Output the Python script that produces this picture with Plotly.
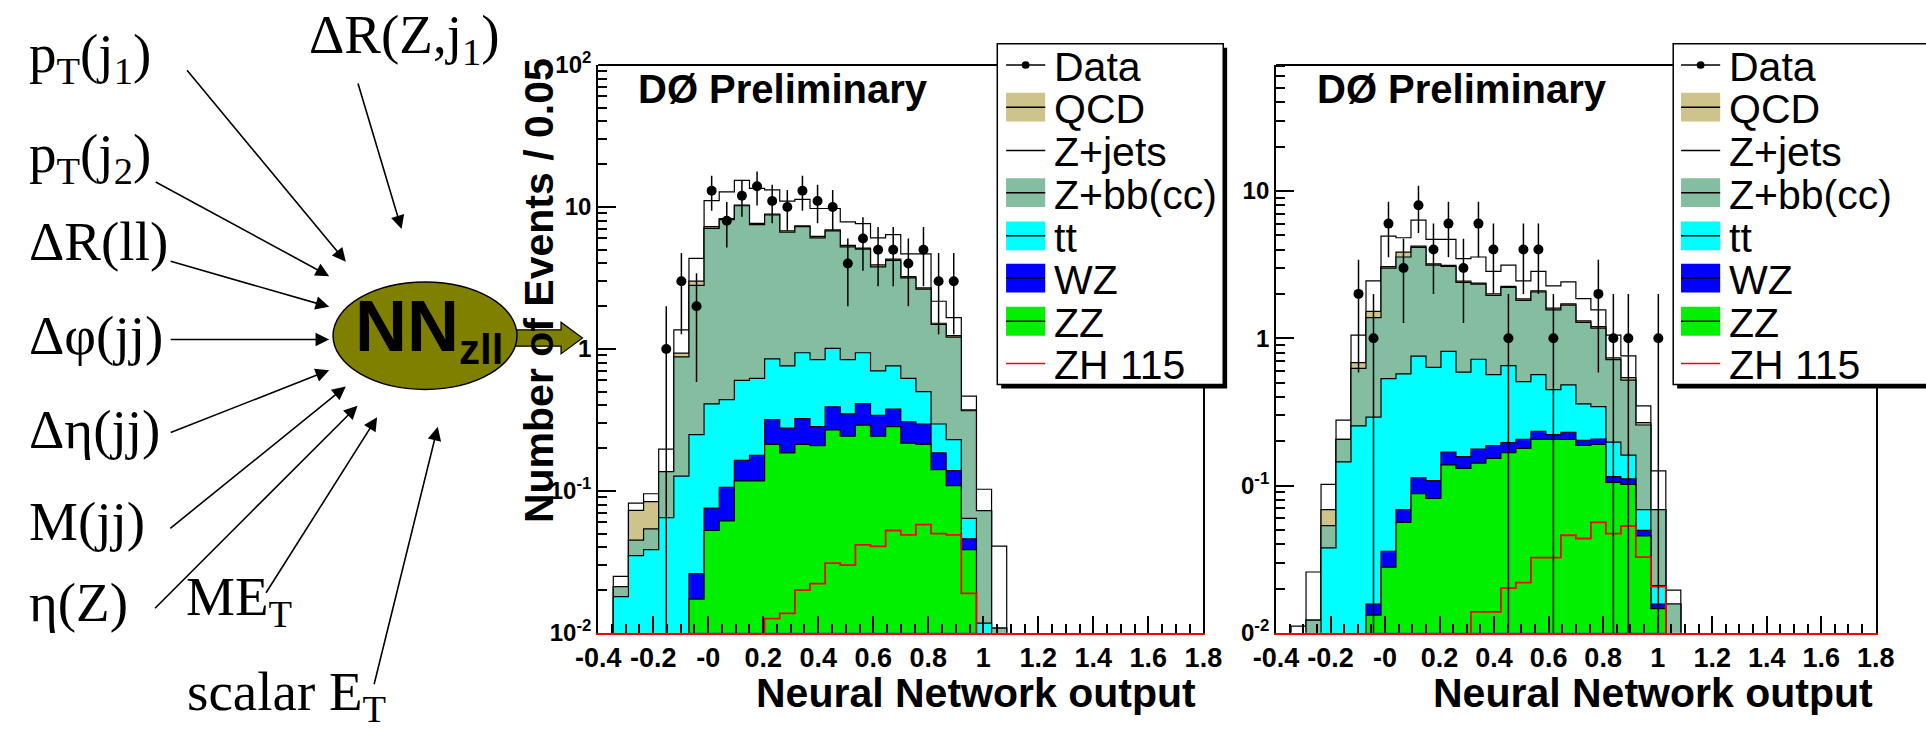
import numpy as np
import plotly.graph_objects as go

W, H = 1926, 745
BIN_LO, BIN_W, N_BINS = -0.4, 0.055, 40

# ---------------- data ----------------
x_tick_vals = [-0.4, -0.2, 0.0, 0.2, 0.4, 0.6, 0.8, 1.0, 1.2, 1.4, 1.6, 1.8]
x_tick_text = ["-0.4", "-0.2", "-0", "0.2", "0.4", "0.6", "0.8", "1", "1.2", "1.4", "1.6", "1.8"]
left_y_tick_vals = [0.01, 0.1, 1, 10, 100]
left_y_tick_text = ["10<sup>-2</sup>", "10<sup>-1</sup>", "1", "10", "10<sup>2</sup>"]
right_y_tick_vals = [0.01, 0.1, 1, 10]
right_y_tick_text = ["0<sup>-2</sup>", "0<sup>-1</sup>", "1", "10"]

legend_labels = ["Data", "QCD", "Z+jets", "Z+bb(cc)", "tt", "WZ", "ZZ", "ZH 115"]
input_labels = ["p<sub>T</sub>(j<sub>1</sub>)", "p<sub>T</sub>(j<sub>2</sub>)", "ΔR(ll)",
                "Δφ(jj)", "Δη(jj)", "M(jj)", "η(Z)"]
extra_labels = ["ME<sub>T</sub>", "scalar E<sub>T</sub>", "ΔR(Z,j<sub>1</sub>)"]

left_zz = [0] * 6 + [0.0173, 0.0526, 0.0615, 0.1175, 0.1175, 0.213, 0.185, 0.213, 0.208, 0.269,
                     0.243, 0.291, 0.243, 0.284, 0.217, 0.213, 0.141, 0.109, 0.0386] + [0] * 15
left_wz = [0] * 6 + [0.0088, 0.0231, 0.0445, 0.0465, 0.0605, 0.105, 0.092, 0.110, 0.076, 0.122,
                     0.106, 0.121, 0.097, 0.093, 0.090, 0.083, 0.044, 0.030, 0.0074] + [0] * 15
left_tt = [0, 0.018, 0.035, 0.0386, 0.0647, 0.127, 0.223, 0.334, 0.334, 0.436, 0.442, 0.532, 0.483,
           0.617, 0.556, 0.619, 0.491, 0.528, 0.360, 0.383, 0.313, 0.204, 0.111, 0.091, 0.018,
           0.0117] + [0] * 14
left_zbb = [0, 0.0032, 0.010, 0.0154, 0.072, 0.753, 2.55, 6.66, 7.7, 9.6, 6.88, 7.95, 5.89, 6.32,
            5.21, 5.78, 4.40, 4.11, 3.09, 3.45, 2.55, 2.14, 1.19, 0.98, 0.303, 0.061, 0.0108] + [0] * 13
left_qcd = [0, 0, 0.028, 0.030, 0, 0.055, 0.2, 0.2, 0.15, 0.1, 0.15, 0.12, 0.15, 0.1, 0.15, 0.1,
            0.12, 0.08, 0.12, 0.08, 0.06, 0.05, 0.03, 0.03, 0.005] + [0] * 15
left_zjets = [0, 0.0038, 0.009, 0.0115, 0.060, 0.425, 1.35, 3.83, 4.5, 5.1, 5.85, 4.28, 4.2, 3.94,
              3.55, 2.86, 2.49, 2.51, 2.14, 2.09, 1.44, 1.98, 0.65, 0.42, 0.093, 0.030, 0.030] + [0] * 13
left_zh = [0] * 11 + [0.0126, 0.0137, 0.020, 0.0222, 0.031, 0.030, 0.0417, 0.0406, 0.0526, 0.049,
                      0.0578, 0.050, 0.049, 0.019] + [0] * 15
left_data = [0, 0, 0, 0, 1, 3, 2, 13, 8, 12, 14, 11, 10, 13, 11, 10, 4, 6, 5, 5, 4, 5, 3, 3] + [0] * 16

right_zz = [0] * 6 + [0.0132, 0.0279, 0.0562, 0.088, 0.0817, 0.138, 0.131, 0.142, 0.153, 0.167,
                      0.179, 0.206, 0.204, 0.206, 0.187, 0.19, 0.105, 0.102, 0.0455, 0.0146] + [0] * 14
right_wz = [0] * 6 + [0.0025, 0.0079, 0.0124, 0.025, 0.0263, 0.031, 0.026, 0.035, 0.034, 0.029,
                      0.027, 0.027, 0.018, 0.024, 0.016, 0.017, 0.010, 0.009, 0.0041, 0.0011] + [0] * 14
right_tt = [0] * 3 + [0.0377, 0.145, 0.254, 0.276, 0.497, 0.505, 0.644, 0.527, 0.646, 0.432, 0.543,
                      0.379, 0.455, 0.301, 0.333, 0.226, 0.252, 0.155, 0.136, 0.082, 0.050, 0.019,
                      0.0052] + [0] * 14
right_zbb = [0] * 2 + [0.0122, 0.0157, 0.061, 0.371, 1.088, 2.457, 2.986, 3.383, 2.505, 2.255, 1.801,
                       1.61, 1.384, 1.559, 1.303, 1.494, 1.112, 1.198, 0.922, 0.827, 0.518, 0.359,
                       0.189, 0.0477, 0.0157] + [0] * 13
right_qcd = [0] * 3 + [0.0152, 0, 0.059, 0.14, 0.07, 0.28, 0.08, 0.06, 0.05, 0.05, 0.04, 0.05, 0.04,
                       0.04, 0.04, 0.04, 0.03, 0.03, 0.03, 0.02, 0.02, 0.01] + [0] * 15
right_zjets = [0, 0.0111, 0.0137, 0.0334, 0.072, 0.366, 0.93, 1.87, 0.97, 2.12, 1.49, 1.57, 1.03,
               1.19, 0.84, 0.89, 0.60, 0.74, 0.67, 0.70, 0.55, 0.36, 0.315, 0.22, 0.080, 0.057,
               0.0038] + [0] * 13
right_zh = [0] * 13 + [0.0139, 0.0139, 0.0201, 0.0219, 0.0324, 0.0324, 0.046, 0.0437, 0.0562,
                       0.0472, 0.053, 0.0327, 0.0206] + [0] * 14
right_data = [0] * 5 + [2, 1, 6, 3, 8, 4, 6, 3, 6, 4, 1, 4, 4, 1, 0, 0, 2, 1, 1, 0, 1] + [0] * 14

# ---------------- styles ----------------
C_QCD, C_ZBB, C_TT, C_WZ, C_ZZ, C_ZH = "#cdc38b", "#84bd9f", "#00ffff", "#0000ff", "#00f000", "#ff0000"
OLIVE = "#808000"
SANS, SERIF = "Liberation Sans", "Liberation Serif"

edges = BIN_LO + BIN_W * np.arange(N_BINS + 1)
centers = edges[:-1] + BIN_W / 2
BASE = 1e-5


def step_polygon(vals):
    xs, ys = [edges[0]], [BASE]
    for i, v in enumerate(vals):
        v = v if v > 0 else BASE
        xs += [edges[i], edges[i + 1]]
        ys += [v, v]
    xs.append(edges[-1])
    ys.append(BASE)
    return xs, ys


fig = go.Figure()


def add_panel(xa, ya, zz, wz, tt, zbb, qcd, zjets, zh, data):
    layers = np.cumsum(np.array([zz, wz, tt, zbb, qcd, zjets], dtype=float), axis=0)
    colors = [C_ZZ, C_WZ, C_TT, C_ZBB, C_QCD, "white"]
    for idx in range(5, -1, -1):
        xs, ys = step_polygon(layers[idx])
        fig.add_trace(go.Scatter(x=xs, y=ys, mode="lines", fill="toself", fillcolor=colors[idx],
                                 line=dict(color="black", width=1.2), xaxis=xa, yaxis=ya,
                                 hoverinfo="skip", showlegend=False))
    zh_vals = [v if v > 0 else BASE for v in zh]
    fig.add_trace(go.Scatter(x=edges, y=zh_vals + [zh_vals[-1]], mode="lines", line_shape="hv",
                             line=dict(color=C_ZH, width=1.8), xaxis=xa, yaxis=ya,
                             hoverinfo="skip", showlegend=False))
    d = np.array(data, dtype=float)
    m = d > 0
    err = np.sqrt(d[m])
    fig.add_trace(go.Scatter(x=centers[m], y=d[m], mode="markers",
                             marker=dict(color="black", size=10),
                             error_y=dict(type="data", symmetric=False, array=err,
                                          arrayminus=np.minimum(err, d[m] * 0.9999),
                                          color="black", thickness=1.5, width=0),
                             xaxis=xa, yaxis=ya, showlegend=False))


add_panel("x", "y", left_zz, left_wz, left_tt, left_zbb, left_qcd, left_zjets, left_zh, left_data)
add_panel("x2", "y2", right_zz, right_wz, right_tt, right_zbb, right_qcd, right_zjets, right_zh, right_data)


def PX(p):
    return p / W


def PY(p):
    return 1 - p / H


minor_x = list(np.round(np.arange(-0.4, 1.8001, 0.05), 3))
minor_y = [m * 10.0 ** e for e in range(-2, 2) for m in range(2, 10)]

xaxis_common = dict(range=[-0.4, 1.8], tickmode="array", tickvals=x_tick_vals, ticktext=x_tick_text,
                    ticks="inside", ticklen=17, tickwidth=1.5, tickcolor="black",
                    showline=True, linecolor="red", linewidth=2, showgrid=False, zeroline=False,
                    tickfont=dict(family=SANS, size=27, color="black", weight="bold"),
                    minor=dict(tickmode="array", tickvals=minor_x, ticks="inside", ticklen=9,
                               tickwidth=1.5, tickcolor="black", showgrid=False))
yaxis_common = dict(type="log", tickmode="array", ticks="inside", ticklen=18, tickwidth=1.5,
                    tickcolor="black", showline=True, linecolor="black", linewidth=2, mirror=True,
                    showgrid=False, zeroline=False,
                    tickfont=dict(family=SANS, size=24, color="black", weight="bold"),
                    minor=dict(tickmode="array", tickvals=minor_y, ticks="inside", ticklen=9,
                               tickwidth=1.5, tickcolor="black", showgrid=False))

y_dom = [PY(641.7), PY(50)]
fig.update_layout(
    width=W, height=H, margin=dict(l=0, r=0, t=0, b=0),
    paper_bgcolor="white", plot_bgcolor="white", showlegend=False,
    xaxis=dict(domain=[PX(588), PX(1206.7)], anchor="y", **xaxis_common),
    yaxis=dict(domain=y_dom, anchor="x", range=[-2, 2], tickvals=left_y_tick_vals,
               ticktext=left_y_tick_text, **yaxis_common),
    xaxis2=dict(domain=[PX(1281), PX(1894)], anchor="y2", **xaxis_common),
    yaxis2=dict(domain=y_dom, anchor="x2", range=[-2, 1.855], tickvals=right_y_tick_vals,
                ticktext=right_y_tick_text, **yaxis_common),
)

shapes = []
annotations = []

# top frame lines
for xr, yr in (("x domain", "y domain"), ("x2 domain", "y2 domain")):
    shapes.append(dict(type="line", xref=xr, yref=yr, x0=0, x1=1, y0=1, y1=1,
                       line=dict(color="black", width=2), layer="above"))

# legends
sym_y = [50, 94, 139, 183, 228, 272, 317, 361]
kinds = ["marker", "fill", "line", "fill", "fill", "fill", "fill", "line"]
sym_colors = ["black", C_QCD, "black", C_ZBB, C_TT, C_WZ, C_ZZ, C_ZH]


def text_ann(text, x, y, size, family=SANS, xanchor="left", bold=False, angle=0):
    return dict(text=text, xref="paper", yref="paper", x=PX(x), y=PY(y), xanchor=xanchor,
                yanchor="middle", align=xanchor if xanchor != "center" else "center",
                showarrow=False, textangle=angle, borderpad=0,
                font=dict(family=family, size=size, color="black",
                          weight="bold" if bold else "normal"))


def add_legend(bx0, bx1, by0, by1, sx0, sx1, tx):
    shapes.append(dict(type="rect", xref="paper", yref="paper", x0=PX(bx0 + 4), x1=PX(bx1 + 4),
                       y0=PY(by1 + 4), y1=PY(by0 + 4), fillcolor="black", line=dict(width=0),
                       layer="above"))
    shapes.append(dict(type="rect", xref="paper", yref="paper", x0=PX(bx0), x1=PX(bx1),
                       y0=PY(by1), y1=PY(by0), fillcolor="white", line=dict(color="black", width=1.5),
                       layer="above"))
    for lab, kind, col, yc in zip(legend_labels, kinds, sym_colors, sym_y):
        if kind == "fill":
            shapes.append(dict(type="rect", xref="paper", yref="paper", x0=PX(sx0), x1=PX(sx1),
                               y0=PY(yc + 15), y1=PY(yc - 15), fillcolor=col, line=dict(width=0),
                               layer="above"))
            shapes.append(dict(type="line", xref="paper", yref="paper", x0=PX(sx0), x1=PX(sx1),
                               y0=PY(yc), y1=PY(yc), line=dict(color="black", width=1.5), layer="above"))
        else:
            shapes.append(dict(type="line", xref="paper", yref="paper", x0=PX(sx0), x1=PX(sx1),
                               y0=PY(yc), y1=PY(yc), line=dict(color=col, width=1.5), layer="above"))
            if kind == "marker":
                xm = (sx0 + sx1) / 2
                shapes.append(dict(type="circle", xref="paper", yref="paper", x0=PX(xm - 4),
                                   x1=PX(xm + 4), y0=PY(yc + 4), y1=PY(yc - 4), fillcolor="black",
                                   line=dict(width=0), layer="above"))
        annotations.append(text_ann(lab, tx, yc + 2, 41))


add_legend(996, 1227, 28, 383, 1005, 1045, 1053)
add_legend(1687, 1960, 28, 383, 1695, 1735, 1743)

# panel texts
for xl in (628, 1322):
    annotations.append(text_ann("DØ Preliminary", xl, 75, 40, bold=True))
for xr in (1200, 1892):
    annotations.append(text_ann("Neural Network output", xr, 704, 41, xanchor="right", bold=True))
annotations.append(text_ann("Number of Events / 0.05", 527, 285, 41, xanchor="center", bold=True,
                            angle=-90))

# ---------------- NN diagram ----------------
label_y = [42, 146, 234, 332, 430, 526, 610]
for lab, yc in zip(input_labels, label_y):
    annotations.append(text_ann(lab, 5, yc, 55, family=SERIF))
for lab, (xl, yc) in zip(extra_labels, [(166, 608), (167, 707), (291, 22)]):
    annotations.append(text_ann(lab, xl, yc, 55, family=SERIF))

arrows = [((170, 62), (330, 255)), ((138, 175), (313, 270)), ((153, 256), (313, 302)),
          ((153, 336), (313, 336)), ((153, 431), (313, 368)), ((153, 528), (330, 385)),
          ((138, 609), (342, 405)), ((250, 594), (362, 417)), ((360, 686), (424, 427)),
          ((343, 74), (387, 221))]
for (tx_, ty_), (hx, hy) in arrows:
    annotations.append(dict(text="", xref="paper", yref="paper", axref="pixel", ayref="pixel",
                            x=PX(hx), y=PY(hy), ax=tx_ - hx, ay=ty_ - hy, showarrow=True,
                            arrowhead=2, arrowsize=1.7, arrowwidth=1.6, arrowcolor="black",
                            standoff=0, startstandoff=0))

# block arrow out of the ellipse
pts = [(497, 326), (550, 326), (550, 318), (572, 334.5), (550, 351), (550, 343), (497, 343)]
path = "M " + " L ".join(f"{PX(a):.5f} {PY(b):.5f}" for a, b in pts) + " Z"
shapes.append(dict(type="path", xref="paper", yref="paper", path=path, fillcolor=OLIVE,
                   line=dict(color="black", width=1.2), layer="above"))
shapes.append(dict(type="circle", xref="paper", yref="paper", x0=PX(317), x1=PX(505),
                   y0=PY(388), y1=PY(276), fillcolor=OLIVE, line=dict(color="black", width=1.5),
                   layer="above"))
annotations.append(text_ann("NN", 338, 322, 72, bold=True))
annotations.append(text_ann("zll", 445, 346, 42, bold=True))

fig.update_layout(shapes=shapes, annotations=annotations)
fig.write_html("out.html")
